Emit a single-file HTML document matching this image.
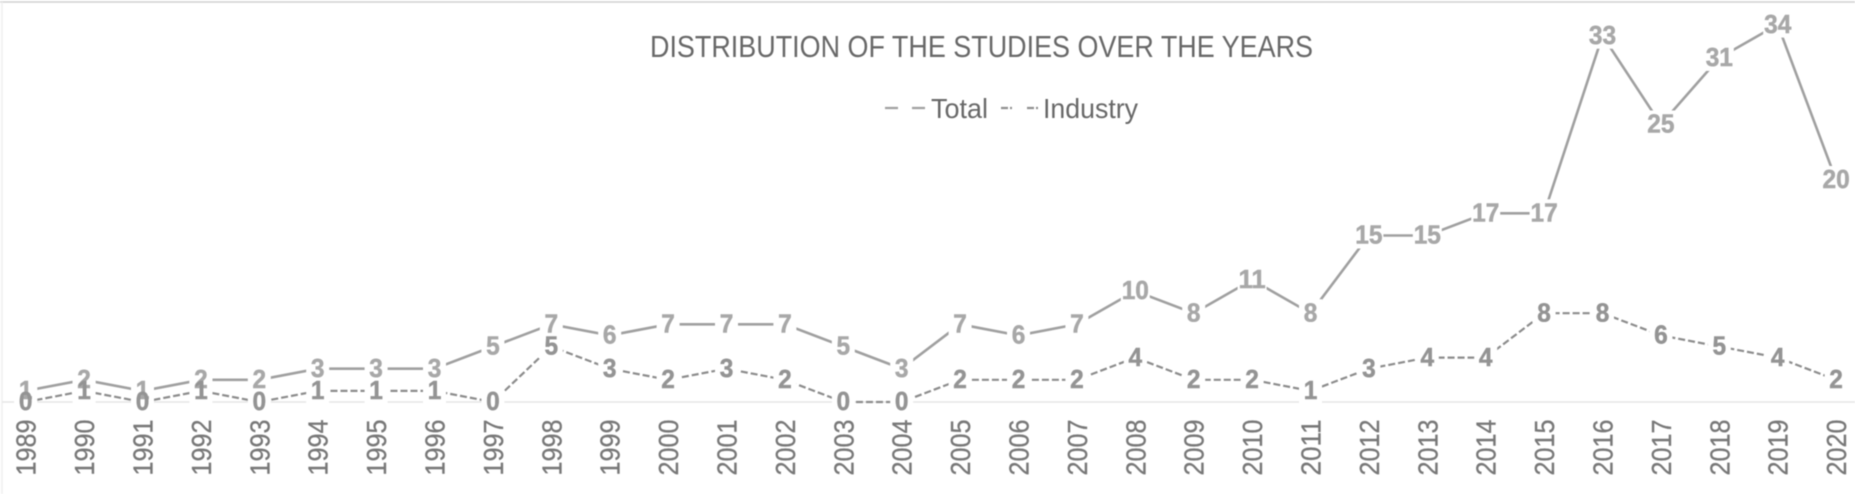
<!DOCTYPE html>
<html lang="en">
<head>
<meta charset="utf-8">
<title>Distribution of the studies over the years</title>
<style>
  html, body { margin: 0; padding: 0; background: #fff; }
  body { width: 1855px; height: 494px; overflow: hidden; }
  svg { display: block; filter: blur(0.45px); }
  text { font-family: "Liberation Sans", Arial, sans-serif; }
</style>
</head>
<body>
<svg id="chart" xmlns="http://www.w3.org/2000/svg" width="1855" height="494" viewBox="0 0 1855 494">
  <rect x="0" y="0" width="1855" height="494" fill="#ffffff"/>
  <line x1="0" y1="2" x2="1855" y2="2" stroke="#d2d2d2" stroke-width="1.5"/>
  <line x1="2" y1="2" x2="2" y2="494" stroke="#efefef" stroke-width="1.5"/>
  <text x="650" y="57" font-size="31" fill="#686868" textLength="663" lengthAdjust="spacingAndGlyphs">DISTRIBUTION OF THE STUDIES OVER THE YEARS</text>
  <g>
    <g>
      <line x1="885" y1="108" x2="926" y2="108" stroke="#a0a0a0" stroke-width="2.2" stroke-dasharray="13 14"/>
      <text x="931" y="118" font-size="28" fill="#686868" textLength="57" lengthAdjust="spacingAndGlyphs">Total</text>
    </g>
    <g>
      <line x1="1001" y1="108" x2="1041" y2="108" stroke="#8f8f8f" stroke-width="2.2" stroke-dasharray="7 2 2 15 7 2 2 6"/>
      <text x="1043" y="118" font-size="28" fill="#686868" textLength="95" lengthAdjust="spacingAndGlyphs">Industry</text>
    </g>
  </g>
  <g id="plot"></g>
</svg>
<script>
const years = [1989,1990,1991,1992,1993,1994,1995,1996,1997,1998,1999,2000,2001,2002,2003,2004,2005,2006,2007,2008,2009,2010,2011,2012,2013,2014,2015,2016,2017,2018,2019,2020];
const totalValues = [1,2,1,2,2,3,3,3,5,7,6,7,7,7,5,3,7,6,7,10,8,11,8,15,15,17,17,33,25,31,34,20];
const industryValues = [0,1,0,1,0,1,1,1,0,5,3,2,3,2,0,0,2,2,2,4,2,2,1,3,4,4,8,8,6,5,4,2];

const NS = 'http://www.w3.org/2000/svg';
const plot = document.getElementById('plot');
const xPos = function (i) { return 25.7 + 58.4 * i; };
const yPos = function (v) { return 402 - 11.1 * v; };
function make(tag, attrs, parent) {
  const el = document.createElementNS(NS, tag);
  for (const k in attrs) el.setAttribute(k, attrs[k]);
  parent.appendChild(el);
  return el;
}

const axisLine = make('line', { x1: 2, y1: 402, x2: 1855, y2: 402, stroke: '#e6e6e6', 'stroke-width': 1.5 }, plot);



function pointsOf(values) {
  return values.map(function (v, i) { return xPos(i).toFixed(1) + ',' + yPos(v).toFixed(1); }).join(' ');
}

const totalLine = make('polyline', { points: pointsOf(totalValues), fill: 'none', stroke: '#a0a0a0', 'stroke-width': 2.6 }, plot);



const industryLine = make('polyline', { points: pointsOf(industryValues), fill: 'none', stroke: '#8c8c8c', 'stroke-width': 2.2, 'stroke-dasharray': '7 3' }, plot);



function knockouts(values, seriesName) {
  values.forEach(function (v, i) {
    const w = String(v).length > 1 ? 29 : 23;
    const r = make('rect', { x: xPos(i) - w / 2, y: yPos(v) - 14, width: w, height: 27, fill: '#ffffff' }, plot);
    
    
  });
}
knockouts(industryValues, 'industry');
knockouts(totalValues, 'total');

function labels(values, seriesName, color) {
  values.forEach(function (v, i) {
    const len = String(v).length * 13.6;
    const t = make('text', { x: xPos(i) - len / 2, y: yPos(v) + 8.2, 'font-size': 26, 'font-weight': 'bold', fill: color, stroke: color, 'stroke-width': 0.5, textLength: len, lengthAdjust: 'spacingAndGlyphs' }, plot);
    t.textContent = v;
    
    
  });
}
labels(totalValues, 'total', '#a8a8a8');
labels(industryValues, 'industry', '#949494');

years.forEach(function (yr, i) {
  const cx = xPos(i) + 10;
  const t = make('text', { x: cx - 28, y: 447.5, transform: 'rotate(-90 ' + cx + ' 447.5)', 'font-size': 28, fill: '#787878', stroke: '#787878', 'stroke-width': 0.3, textLength: 56, lengthAdjust: 'spacingAndGlyphs' }, plot);
  t.setAttribute('x', cx - 28);
  t.setAttribute('y', 447.5);
  t.textContent = yr;
  
  
});
</script>
</body>
</html>
